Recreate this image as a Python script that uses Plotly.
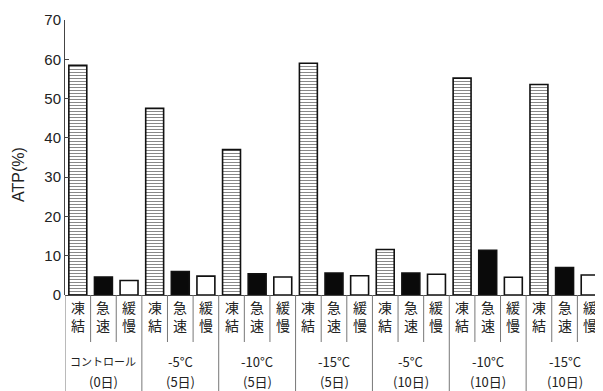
import plotly.graph_objects as go

group_names = ["コントロール", "-5°C", "-10°C", "-15°C", "-5°C", "-10°C", "-15°C"]
group_days = ["(0日)", "(5日)", "(5日)", "(5日)", "(10日)", "(10日)", "(10日)"]
series = ["凍結", "急速", "緩慢"]
toketsu = [58.5, 47.5, 37.0, 59.0, 11.6, 55.2, 53.6]
kyusoku = [4.6, 6.0, 5.4, 5.6, 5.6, 11.4, 7.0]
kanman = [3.7, 4.8, 4.6, 4.9, 5.3, 4.5, 5.1]
yticks = [0, 10, 20, 30, 40, 50, 60, 70]

vals = [toketsu, kyusoku, kanman]
ng = len(group_names)
ns = len(series)

# page body has an 8px margin, so the figure is sized to fit the 603x391 window
W, H = 595, 383
L, R, T, B = 57, 0, 12, 96
ph = H - T - B

fig = go.Figure()
styles = [
    dict(color="white", pattern=dict(shape="-", fgcolor="#111", bgcolor="white", size=3, solidity=0.35)),
    dict(color="#0a0a0a"),
    dict(color="white"),
]
for k in range(ns):
    xs = [g * ns + k + 0.5 for g in range(ng)]
    fig.add_trace(go.Bar(
        x=xs, y=vals[k], width=0.7, name=series[k],
        marker=dict(**styles[k], line=dict(color="#111", width=1.6)),
        showlegend=False,
    ))

def py(px_below):
    return -px_below / ph

shapes = []
annotations = []
for i in range(ng * ns + 1):
    is_group = (i % ns == 0)
    shapes.append(dict(type="line", xref="x", yref="paper", x0=i, x1=i,
                       y0=0, y1=py(B) if is_group else py(47),
                       line=dict(color="#777", width=1)))
cjk = "Noto Sans CJK JP"
for g in range(ng):
    for k in range(ns):
        annotations.append(dict(xref="x", yref="paper", x=g * ns + k + 0.5, y=py(21),
                                yanchor="middle", showarrow=False,
                                text="<br>".join(list(series[k])),
                                font=dict(family=cjk, size=14, color="#222")))
    name_size = 11 if len(group_names[g]) > 5 else 13
    annotations.append(dict(xref="x", yref="paper", x=g * ns + 1.5, y=py(66),
                            yanchor="middle", showarrow=False, text=group_names[g],
                            font=dict(family=cjk, size=name_size, color="#222")))
    annotations.append(dict(xref="x", yref="paper", x=g * ns + 1.5, y=py(86),
                            yanchor="middle", showarrow=False, text=group_days[g],
                            font=dict(family=cjk, size=13, color="#222")))
annotations.append(dict(xref="paper", yref="paper", x=-47 / (W - L - R), y=(295 - 175) / ph,
                        xanchor="center", yanchor="middle", showarrow=False, textangle=-90,
                        text="ATP(%)", font=dict(family="Liberation Sans", size=16, color="#222")))

fig.update_layout(
    width=W, height=H,
    margin=dict(l=L, r=R, t=T, b=B, autoexpand=False),
    paper_bgcolor="white", plot_bgcolor="white",
    shapes=shapes, annotations=annotations,
    xaxis=dict(range=[0, ng * ns], showticklabels=False, showgrid=False, zeroline=False,
               showline=False, ticks=""),
    yaxis=dict(range=[0, 70], tickvals=yticks, ticks="inside", ticklen=4, tickcolor="#444",
               showline=True, linecolor="#444", linewidth=1, showgrid=False, zeroline=True,
               zerolinecolor="#444", zerolinewidth=1,
               tickfont=dict(family="Liberation Sans", size=15, color="#222")),
)
fig.write_html("out.html")
